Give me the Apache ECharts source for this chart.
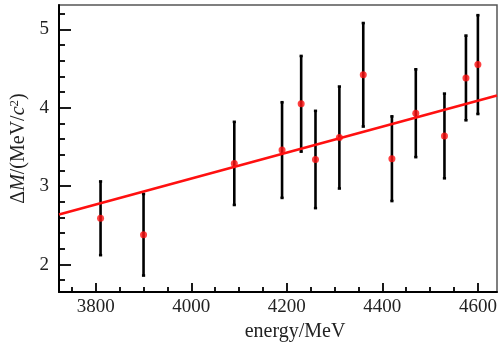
<!DOCTYPE html>
<html>
<head>
<meta charset="utf-8">
<script src="https://cdn.jsdelivr.net/npm/echarts@6/dist/echarts.min.js"></script>
<style>html,body{margin:0;padding:0;background:#fff;}#c{width:500px;height:347px;}</style>
</head>
<body>
<div id="c"></div>
<script>
const energy = [3810, 3900, 4090, 4190, 4230, 4260, 4310, 4360, 4420, 4470, 4530, 4575, 4600];
const deltaM = [2.59, 2.38, 3.29, 3.46, 4.05, 3.34, 3.62, 4.42, 3.35, 3.93, 3.64, 4.38, 4.55];
const errM   = [0.47, 0.52, 0.53, 0.61, 0.61, 0.62, 0.65, 0.66, 0.54, 0.56, 0.54, 0.54, 0.63];
const fitX = [3723, 4640];
const fitY = [2.638, 4.155];
const xMajor = [3800, 4000, 4200, 4400, 4600];
const xMinor = [3750, 3850, 3900, 3950, 4050, 4100, 4150, 4250, 4300, 4350, 4450, 4500, 4550];
const yMajor = [2, 3, 4, 5];
const yMinor = [1.8, 2.2, 2.4, 2.6, 2.8, 3.2, 3.4, 3.6, 3.8, 4.2, 4.4, 4.6, 4.8, 5.2];

const FONT = 'Liberation Serif';
const X_MIN = 3723, X_MAX = 4640, Y_MIN = 1.65, Y_MAX = 5.31;

const chart = echarts.init(document.getElementById('c'), null, {renderer: 'canvas'});

const errData = energy.map((e, i) => [e, deltaM[i] - errM[i], deltaM[i] + errM[i]]);
const pts = energy.map((e, i) => [e, deltaM[i]]);
const fit = fitX.map((x, i) => [x, fitY[i]]);

const tickStyle = {color: '#000', width: 1.8};
const labelStyle = {fontFamily: FONT, fontSize: 19, color: '#222'};
const plain = v => String(v);

chart.setOption({
  animation: false,
  backgroundColor: '#fff',
  grid: {left: 59, right: 3, top: 5, bottom: 55, show: true, borderColor: '#555', borderWidth: 1.5, backgroundColor: 'transparent'},
  xAxis: [
    {
      type: 'value', min: X_MIN, max: X_MAX, position: 'bottom',
      axisLine: {show: true, onZero: false, lineStyle: {color: '#000', width: 2}},
      axisTick: {show: true, inside: true, length: 9, customValues: xMajor, lineStyle: tickStyle},
      axisLabel: Object.assign({customValues: xMajor, margin: 6, formatter: plain}, labelStyle),
      splitLine: {show: false},
      name: 'energy/MeV', nameLocation: 'middle', nameGap: 25,
      nameTextStyle: {fontFamily: FONT, fontSize: 20, color: '#222', padding: [0, 0, 0, 34]}
    },
    {
      type: 'value', min: X_MIN, max: X_MAX, position: 'bottom', offset: 0,
      axisLine: {show: false},
      axisTick: {show: true, inside: true, length: 5, customValues: xMinor, lineStyle: tickStyle},
      axisLabel: {show: false},
      splitLine: {show: false}
    }
  ],
  yAxis: [
    {
      type: 'value', min: Y_MIN, max: Y_MAX, position: 'left',
      axisLine: {show: true, onZero: false, lineStyle: {color: '#000', width: 2}},
      axisTick: {show: true, inside: true, length: 12, customValues: yMajor, lineStyle: tickStyle},
      axisLabel: Object.assign({customValues: yMajor, margin: 10, formatter: plain}, labelStyle),
      splitLine: {show: false},
      name: '{n|Δ}{i|M}{n|/(MeV/}{i|c}{s|2}{n|)}',
      nameLocation: 'middle', nameGap: 30,
      nameTextStyle: {
        rich: {
          n: {fontFamily: FONT, fontSize: 20, color: '#222'},
          i: {fontFamily: FONT, fontSize: 20, fontStyle: 'italic', color: '#222'},
          s: {fontFamily: FONT, fontSize: 13, color: '#222', verticalAlign: 'top', padding: [0, 0, 8, 0]}
        }
      }
    },
    {
      type: 'value', min: Y_MIN, max: Y_MAX, position: 'left', offset: 0,
      axisLine: {show: false},
      axisTick: {show: true, inside: true, length: 6, customValues: yMinor, lineStyle: tickStyle},
      axisLabel: {show: false},
      splitLine: {show: false}
    }
  ],
  series: [
    {
      type: 'custom', xAxisIndex: 0, yAxisIndex: 0, z: 2,
      data: errData,
      renderItem: function (params, api) {
        const lo = api.coord([api.value(0), api.value(1)]);
        const hi = api.coord([api.value(0), api.value(2)]);
        const st = {stroke: '#000', lineWidth: 2.6};
        return {
          type: 'group',
          children: [
            {type: 'line', shape: {x1: lo[0], y1: lo[1], x2: hi[0], y2: hi[1]}, style: st},
            {type: 'line', shape: {x1: lo[0] - 1.6, y1: lo[1], x2: lo[0] + 1.6, y2: lo[1]}, style: st},
            {type: 'line', shape: {x1: hi[0] - 1.6, y1: hi[1], x2: hi[0] + 1.6, y2: hi[1]}, style: st}
          ]
        };
      }
    },
    {
      type: 'line', xAxisIndex: 0, yAxisIndex: 0, z: 3,
      data: fit, symbol: 'none', clip: true,
      lineStyle: {color: '#ff1010', width: 2.6}
    },
    {
      type: 'scatter', xAxisIndex: 0, yAxisIndex: 0, z: 4,
      data: pts, symbol: 'circle', symbolSize: 7,
      itemStyle: {color: '#ff1010'}
    }
  ]
});
</script>
</body>
</html>
